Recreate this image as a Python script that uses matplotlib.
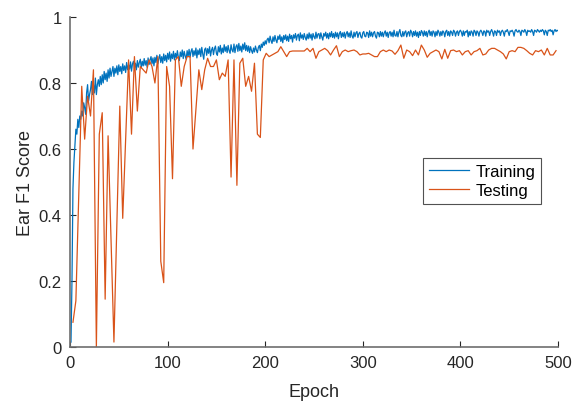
import matplotlib.pyplot as plt
import numpy as np

plt.rcParams['font.family'] = ['Liberation Sans', 'DejaVu Sans']

# training F1 per epoch (x1000), epochs 1..500
train_f1 = np.array([
    15, 200, 480, 560, 610, 660, 645, 690, 665, 700, 690, 715, 700, 740, 725, 705, 770, 795, 745, 765,
    780, 805, 765, 795, 770, 815, 765, 795, 810, 790, 820, 795, 825, 800, 835, 810, 830, 805, 840, 815,
    845, 820, 835, 850, 820, 845, 830, 852, 825, 855, 835, 850, 828, 858, 838, 852, 832, 862, 840, 855,
    842, 864, 836, 858, 866, 844, 860, 840, 868, 848, 862, 872, 846, 866, 852, 874, 854, 868, 848, 876,
    856, 870, 880, 858, 876, 852, 878, 862, 884, 858, 874, 886, 862, 880, 860, 888, 868, 884, 864, 890,
    872, 894, 866, 888, 874, 896, 870, 890, 876, 898, 878, 868, 894, 880, 900, 874, 896, 882, 872, 898,
    880, 902, 878, 896, 904, 880, 898, 884, 906, 876, 900, 886, 904, 880, 908, 888, 872, 902, 906, 884,
    904, 890, 910, 882, 900, 908, 886, 904, 912, 890, 884, 910, 894, 914, 888, 906, 892, 916, 896, 910,
    892, 914, 898, 890, 916, 900, 894, 918, 892, 910, 916, 896, 920, 898, 912, 894, 918, 902, 922, 898,
    914, 896, 912, 892, 910, 898, 890, 906, 894, 912, 900, 892, 908, 914, 898, 918, 908, 924, 914, 928,
    918, 932, 936, 922, 942, 928, 920, 940, 926, 944, 930, 922, 942, 932, 946, 926, 940, 922, 944, 932,
    946, 928, 942, 926, 948, 934, 944, 924, 946, 936, 950, 930, 944, 948, 928, 952, 936, 946, 932, 950,
    938, 930, 948, 934, 952, 936, 948, 930, 950, 940, 934, 954, 936, 948, 950, 934, 952, 940, 930, 950,
    942, 954, 936, 950, 934, 952, 940, 956, 938, 950, 936, 954, 940, 952, 934, 950, 956, 938, 952, 940,
    954, 936, 950, 956, 940, 952, 938, 958, 942, 936, 954, 940, 952, 956, 938, 950, 954, 940, 936, 952,
    956, 942, 940, 954, 952, 938, 958, 942, 954, 940, 952, 956, 942, 936, 954, 952, 940, 956, 942, 954,
    940, 952, 958, 942, 954, 938, 952, 956, 942, 954, 940, 960, 944, 942, 956, 940, 954, 962, 944, 940,
    956, 942, 954, 958, 940, 952, 956, 942, 960, 954, 940, 956, 944, 958, 942, 954, 938, 956, 944, 959,
    954, 942, 958, 944, 956, 940, 954, 960, 944, 956, 942, 958, 954, 940, 956, 944, 960, 954, 942, 956,
    944, 958, 954, 940, 956, 960, 944, 956, 942, 958, 954, 944, 960, 956, 942, 954, 958, 944, 956, 960,
    954, 942, 958, 944, 956, 954, 960, 940, 956, 944, 958, 954, 942, 960, 956, 944, 958, 954, 942, 956,
    960, 954, 944, 958, 956, 942, 960, 954, 958, 944, 956, 962, 954, 942, 958, 956, 944, 960, 954, 958,
    944, 956, 960, 954, 942, 958, 956, 962, 954, 944, 958, 956, 960, 954, 942, 958, 962, 956, 954, 960,
    956, 944, 960, 958, 954, 962, 956, 944, 960, 956, 958, 954, 962, 956, 944, 960, 958, 954, 962, 958,
    954, 960, 956, 962, 958, 946, 960, 956, 944, 960, 958, 962, 956, 960, 946, 958, 962, 956, 960, 958,
]) / 1000
train_epochs = np.arange(1, len(train_f1) + 1)

# testing F1, evaluated every 3 epochs (3..498)
test_f1 = np.array([
    0.075, 0.14, 0.47, 0.79, 0.63, 0.76, 0.70, 0.84, 0.0, 0.645,
    0.71, 0.145, 0.64, 0.33, 0.015, 0.37, 0.73, 0.39, 0.63, 0.87,
    0.645, 0.88, 0.715, 0.85, 0.84, 0.83, 0.87, 0.85, 0.80, 0.88,
    0.26, 0.195, 0.85, 0.79, 0.51, 0.87, 0.88, 0.79, 0.85, 0.88,
    0.88, 0.60, 0.72, 0.84, 0.78, 0.84, 0.875, 0.85, 0.85, 0.87,
    0.81, 0.83, 0.82, 0.87, 0.515, 0.87, 0.49, 0.86, 0.875, 0.79,
    0.82, 0.775, 0.86, 0.645, 0.635, 0.87, 0.89, 0.88, 0.885, 0.89,
    0.895, 0.91, 0.895, 0.88, 0.895, 0.897, 0.897, 0.897, 0.897, 0.897,
    0.905, 0.895, 0.905, 0.875, 0.895, 0.90, 0.905, 0.898, 0.885, 0.90,
    0.913, 0.88, 0.895, 0.90, 0.895, 0.898, 0.90, 0.895, 0.885, 0.888,
    0.888, 0.89, 0.885, 0.88, 0.88, 0.895, 0.90, 0.895, 0.90, 0.897,
    0.887, 0.898, 0.915, 0.875, 0.90, 0.895, 0.883, 0.90, 0.885, 0.915,
    0.90, 0.878, 0.89, 0.895, 0.90, 0.895, 0.873, 0.902, 0.875, 0.898,
    0.90, 0.895, 0.898, 0.885, 0.895, 0.898, 0.885, 0.895, 0.898, 0.905,
    0.885, 0.888, 0.90, 0.905, 0.905, 0.90, 0.895, 0.888, 0.873, 0.895,
    0.898, 0.895, 0.908, 0.908, 0.905, 0.898, 0.89, 0.885, 0.898, 0.895,
    0.90, 0.885, 0.905, 0.885, 0.885, 0.898,
])
test_epochs = np.arange(3, 3 * len(test_f1) + 1, 3)

x_ticks = [0, 100, 200, 300, 400, 500]
y_ticks = [0, 0.2, 0.4, 0.6, 0.8, 1]
y_labels = ['0', '0.2', '0.4', '0.6', '0.8', '1']

fig = plt.figure(figsize=(5.73, 4.02), dpi=100)
ax = fig.add_axes([0.1222, 0.1343, 0.8516, 0.8209])

ax.plot(train_epochs, train_f1, color='#0072BD', lw=0.9, label='Training')
ax.plot(test_epochs, test_f1, color='#D95319', lw=0.9, label='Testing')

ax.set_xlim(0, 500)
ax.set_ylim(0, 1)
ax.set_xticks(x_ticks)
ax.set_yticks(y_ticks)
ax.set_yticklabels(y_labels)
ax.tick_params(direction='in', length=4, width=0.8, color='#262626',
               labelsize=12, labelcolor='#262626', pad=6)
for s in ['top', 'right']:
    ax.spines[s].set_visible(False)
for s in ['left', 'bottom']:
    ax.spines[s].set_color('#6e6e6e')
    ax.spines[s].set_linewidth(1.2)

ax.set_xlabel('Epoch', fontsize=13, color='#262626', labelpad=9)
ax.set_ylabel('Ear F1 Score', fontsize=13, color='#262626', labelpad=3)

leg = ax.legend(loc='center right', bbox_to_anchor=(0.965, 0.503), fontsize=12,
                frameon=True, fancybox=False, borderaxespad=0, handlelength=2.4,
                handletextpad=0.4, borderpad=0.35, labelspacing=0.25)
leg.get_frame().set_edgecolor('#262626')
leg.get_frame().set_linewidth(0.8)

fig.savefig('out.png', dpi=100)
